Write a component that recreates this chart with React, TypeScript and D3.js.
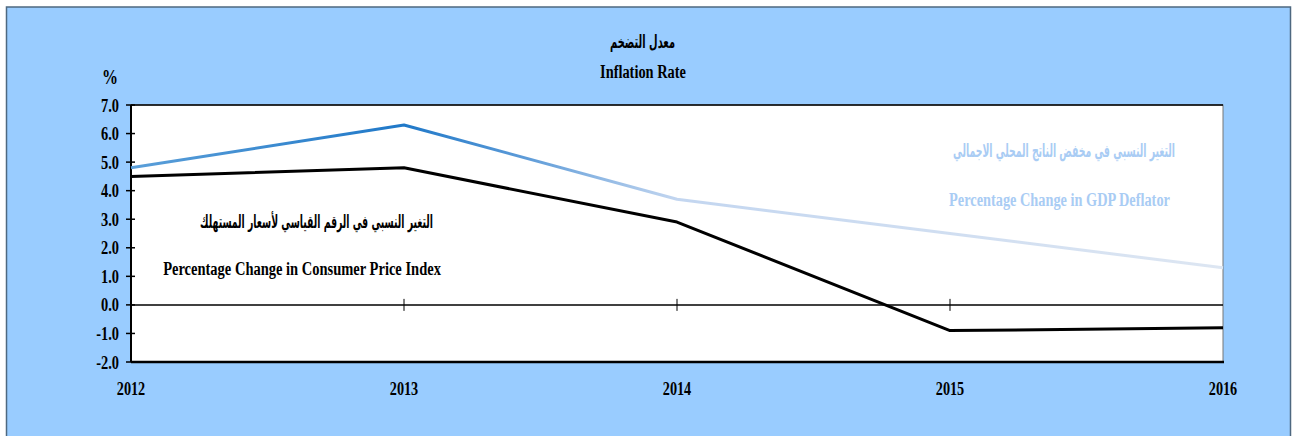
import React, { useLayoutEffect, useRef, useState } from "react";
import * as d3 from "d3";

const years = ["2012", "2013", "2014", "2015", "2016"];
const cpiValues = [4.5, 4.8, 2.9, -0.9, -0.8];
const gdpDeflatorValues = [4.8, 6.3, 3.7, 2.5, 1.3];
const yTicks = [-2, -1, 0, 1, 2, 3, 4, 5, 6, 7];

const W = 1293;
const H = 436;
const left = 131;
const right = 1223;
const top = 105;
const bottom = 362;

const SERIF = "'Liberation Serif', 'Times New Roman', 'DejaVu Serif', serif";
const ARABIC = "'DejaVu Sans', 'Noto Sans', sans-serif";

function Cond({ x, y, sx = 0.75, size = 19, anchor = "middle", fill = "#000", family = SERIF, children }: any) {
  return (
    <g transform={`translate(${x},${y}) scale(${sx},1)`}>
      <text x={0} y={0} textAnchor={anchor} fontFamily={family} fontWeight="bold" fontSize={size} fill={fill}>
        {children}
      </text>
    </g>
  );
}

function Fit({ x, y, w, size, fill = "#000", family = SERIF, children }: any) {
  const ref = useRef<SVGTextElement>(null);
  const [sx, setSx] = useState(1);
  useLayoutEffect(() => {
    if (ref.current) {
      const len = ref.current.getComputedTextLength();
      if (len > 0) setSx(w / len);
    }
  }, [w, size, family]);
  return (
    <g transform={`translate(${x + w / 2},${y}) scale(${sx},1)`}>
      <text ref={ref} x={0} y={0} textAnchor="middle" fontFamily={family} fontWeight="bold" fontSize={size} fill={fill}>
        {children}
      </text>
    </g>
  );
}

export default function App() {
  const x = d3.scalePoint<string>().domain(years).range([left, right]);
  const y = d3.scaleLinear().domain([-2, 7]).range([bottom, top]);
  const line = d3
    .line<number>()
    .x((_, i) => x(years[i]) as number)
    .y((d) => y(d));

  return (
    <svg width={W} height={H} style={{ position: "absolute", left: 0, top: 0 }}>
      <defs>
        <linearGradient id="gdpGrad" gradientUnits="userSpaceOnUse" x1={left} y1={0} x2={right} y2={0}>
          <stop offset="0" stopColor="#5b9fd9" />
          <stop offset="0.25" stopColor="#1f78c8" />
          <stop offset="0.36" stopColor="#5d9bd8" />
          <stop offset="0.5" stopColor="#c3d6f0" />
          <stop offset="1" stopColor="#dde6f2" />
        </linearGradient>
      </defs>
      <rect x={0} y={0} width={W} height={H} fill="#fff" />
      <rect x={6.5} y={7} width={1284} height={440} fill="#99ccff" stroke="#4e6880" strokeWidth={1.5} />

      {/* plot area */}
      <rect x={left} y={top} width={right - left} height={bottom - top} fill="#fff" stroke="#777" strokeWidth={1} />
      <line x1={left} x2={right} y1={top} y2={top} stroke="#000" strokeWidth={1.5} />
      <line x1={left} x2={right + 1} y1={bottom} y2={bottom} stroke="#000" strokeWidth={2.5} />
      <line x1={left} x2={left} y1={top} y2={bottom} stroke="#000" strokeWidth={2} />
      <line x1={left} x2={right} y1={y(0)} y2={y(0)} stroke="#000" strokeWidth={1.5} />

      {/* y ticks */}
      {yTicks.map((t) => (
        <g key={t}>
          <line x1={left - 5} x2={left + 4} y1={y(t)} y2={y(t)} stroke="#000" strokeWidth={1.5} />
          <Cond x={119} y={y(t) + 6.5} anchor="end" size={19} sx={0.76}>
            {t.toFixed(1)}
          </Cond>
        </g>
      ))}

      {/* x ticks on zero line */}
      {years.slice(1, 4).map((yr) => (
        <line key={yr} x1={x(yr)} x2={x(yr)} y1={y(0) - 6} y2={y(0) + 6} stroke="#000" strokeWidth={1} />
      ))}
      {years.map((yr) => (
        <Cond key={yr} x={x(yr) as number} y={395} size={19} sx={0.75}>
          {yr}
        </Cond>
      ))}

      {/* lines */}
      <path d={line(gdpDeflatorValues) || ""} fill="none" stroke="url(#gdpGrad)" strokeWidth={3} strokeLinejoin="round" />
      <path d={line(cpiValues) || ""} fill="none" stroke="#000" strokeWidth={3} strokeLinejoin="round" />

      {/* titles */}
      <Fit x={610} y={48} w={65} size={18} family={ARABIC}>معدل التضخم</Fit>
      <Fit x={600} y={78} w={86} size={19}>Inflation Rate</Fit>
      <Cond x={110} y={84} size={20} sx={0.8}>%</Cond>

      {/* CPI label */}
      <Fit x={200} y={228} w={233} size={18} family={ARABIC}>التغير النسبي في الرقم القياسي لأسعار المستهلك</Fit>
      <Fit x={163} y={275} w={278} size={19}>Percentage Change in Consumer Price Index</Fit>

      {/* GDP label */}
      <Fit x={953} y={157} w={222} size={18} family={ARABIC} fill="#a9ccf4">التغير النسبي في مخفض الناتج المحلي الاجمالي</Fit>
      <Fit x={949} y={206} w={221} size={19} fill="#a9ccf4">Percentage Change in GDP Deflator</Fit>
    </svg>
  );
}
